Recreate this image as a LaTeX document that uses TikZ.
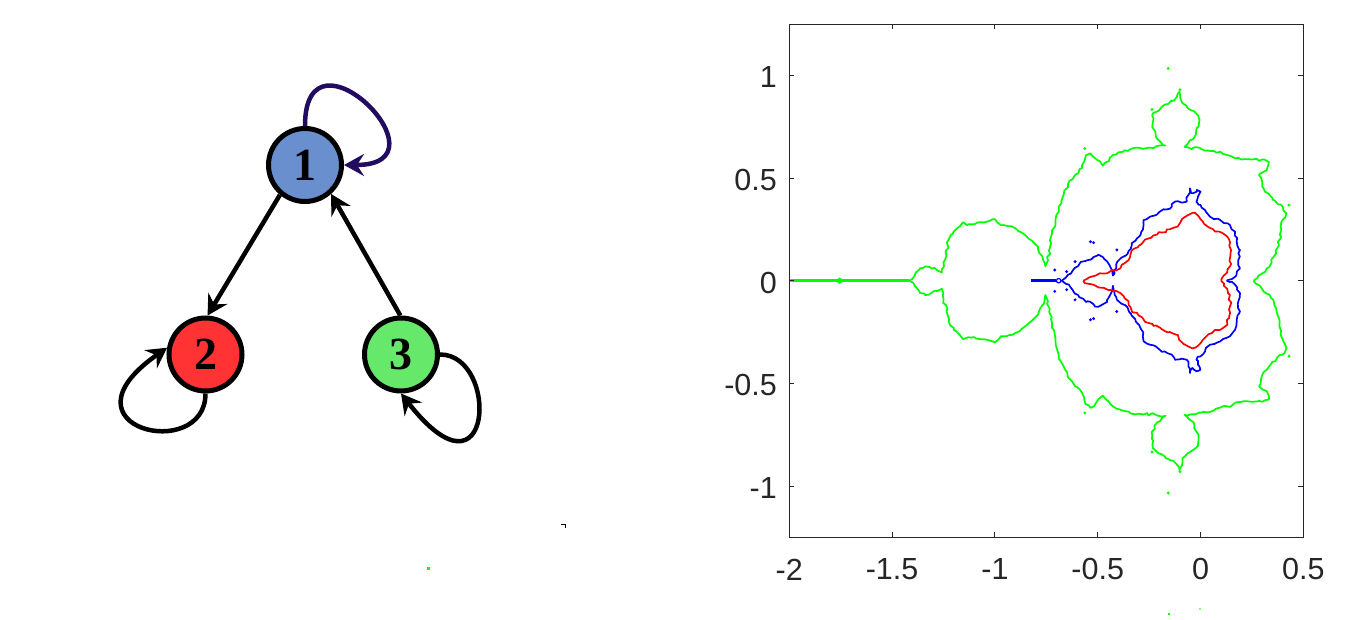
\documentclass[tikz,border=0pt]{standalone}
\usepackage{fontspec}
\newfontfamily\axfont{Liberation Sans}
\newfontfamily\labfont{Liberation Serif}
\usetikzlibrary{arrows.meta,decorations.pathmorphing}
\definecolor{nblue}{RGB}{106,143,206}
\definecolor{nred}{RGB}{255,51,51}
\definecolor{ngreen}{RGB}{102,232,106}
\definecolor{loopcol}{RGB}{34,12,96}
\definecolor{axcol}{RGB}{38,38,38}
\definecolor{mgreen}{RGB}{0,255,0}
\definecolor{mblue}{RGB}{0,0,255}
\definecolor{mred}{RGB}{255,0,0}
\begin{document}
\begin{tikzpicture}[x=1pt,y=1pt,
  vtx/.style={circle,draw=black,line width=5pt,minimum size=73pt,inner sep=0pt,
    font=\labfont\bfseries\fontsize{46}{46}\selectfont},
  conn/.style={line width=4.5pt,-{Stealth[length=20pt,width=22pt,inset=7pt]}},
  axline/.style={draw=axcol,line width=0.9pt},
  axlab/.style={text=axcol,inner sep=0pt,font=\axfont\fontsize{30.5}{30.5}\selectfont},
  jag/.style={decorate,decoration={random steps,segment length=3.5pt,amplitude=1.5pt}},
  gcurve/.style={draw=mgreen,line width=1.7pt,line join=round,jag},
  bcurve/.style={draw=mblue,line width=1.7pt,line join=round,jag},
  rcurve/.style={draw=mred,line width=1.7pt,line join=round,jag}]
\useasboundingbox (0,0) rectangle (1363,620);
\fill[white] (0,0) rectangle (1363,620);

% ---------- graph ----------
\node[vtx,fill=nblue] (n1) at (305,455) {1};
\node[vtx,fill=nred] (n2) at (205.5,265.5) {2};
\node[vtx,fill=ngreen] (n3) at (401,265.5) {3};

\draw[conn] (n1.230) -- (n2.87);
\draw[conn] (n3.91) -- (n1.-48);
\draw[conn,loopcol] (n1.north) .. controls +(90:110) and +(0:110) .. (n1.east);
\draw[conn] (n2.south) .. controls +(-90:70) and +(215:140) .. (n2.170);
\draw[conn] (n3.east) .. controls +(0:60) and +(-52:150) .. (n3.south);

% stray marks
\draw[black,line width=1pt] (561,95) -- (565,95) -- (565,92);
\fill[mgreen] (426.5,49.5) rectangle (429.5,52.5);

% ---------- plot ----------
\begin{scope}[shift={(1200.5pt,339.3pt)},x=205.6pt,y=205.3pt]
  % antenna
  \draw[mgreen,line width=2.6pt] (-2,0) -- (-1.417,0);
  \draw[mgreen,line width=1.2pt] (-1.772,0) -- (-1.755,0.012) -- (-1.738,0) -- (-1.755,-0.012) -- cycle;
  \foreach \s in {1,-1}{
  \begin{scope}[yscale=\s]
  \draw[gcurve] (-1.417,0) -- (-1.39,0.025) -- (-1.365,0.06) -- (-1.34,0.07) -- (-1.31,0.06) -- (-1.28,0.05) -- (-1.258,0.04)
    -- (-1.25,0.09) -- (-1.235,0.15) -- (-1.225,0.2) -- (-1.2,0.24) -- (-1.17,0.265) -- (-1.155,0.285) -- (-1.13,0.275)
    -- (-1.1,0.275) -- (-1.07,0.285) -- (-1.03,0.29) -- (-1.0,0.3) -- (-0.97,0.27) -- (-0.93,0.265) -- (-0.9,0.255)
    -- (-0.87,0.235) -- (-0.85,0.22) -- (-0.82,0.195) -- (-0.79,0.165) -- (-0.77,0.12) -- (-0.755,0.07)
    -- (-0.742,0.1) -- (-0.733,0.16) -- (-0.722,0.23) -- (-0.705,0.3) -- (-0.69,0.36) -- (-0.665,0.42) -- (-0.645,0.47)
    -- (-0.61,0.515) -- (-0.575,0.55) -- (-0.56,0.6) -- (-0.535,0.62) -- (-0.505,0.59) -- (-0.475,0.56) -- (-0.44,0.6)
    -- (-0.4,0.625) -- (-0.37,0.635) -- (-0.3,0.648) -- (-0.22,0.652) -- (-0.17,0.658)
    -- (-0.21,0.69) -- (-0.235,0.75) -- (-0.232,0.815) -- (-0.19,0.845) -- (-0.145,0.875) -- (-0.115,0.895) -- (-0.102,0.92)
    -- (-0.088,0.865) -- (-0.045,0.83) -- (-0.012,0.805) -- (-0.01,0.75) -- (-0.03,0.7) -- (-0.078,0.652)
    -- (0,0.643) -- (0.065,0.632) -- (0.13,0.612) -- (0.2,0.59) -- (0.25,0.59) -- (0.3,0.59) -- (0.333,0.578)
    -- (0.322,0.538) -- (0.285,0.515) -- (0.3,0.46) -- (0.35,0.395) -- (0.4,0.36) -- (0.418,0.328) -- (0.39,0.265)
    -- (0.385,0.2) -- (0.368,0.133) -- (0.335,0.068) -- (0.258,0);
  \draw[bcurve] (-0.675,0) -- (-0.655,0.015) -- (-0.63,0.035) -- (-0.612,0.062) -- (-0.59,0.08) -- (-0.55,0.1)
    -- (-0.52,0.115) -- (-0.497,0.127) -- (-0.475,0.115) -- (-0.455,0.095) -- (-0.44,0.07) -- (-0.43,0.05) -- (-0.426,0.025)
    -- (-0.42,0.05) -- (-0.41,0.08) -- (-0.385,0.112) -- (-0.355,0.13) -- (-0.335,0.17) -- (-0.31,0.205) -- (-0.288,0.238)
    -- (-0.277,0.295) -- (-0.245,0.312) -- (-0.2,0.335) -- (-0.14,0.36) -- (-0.124,0.385) -- (-0.09,0.38) -- (-0.067,0.385)
    -- (-0.059,0.417) -- (-0.051,0.45) -- (-0.04,0.425) -- (-0.018,0.442) -- (0,0.434) -- (-0.012,0.41) -- (-0.02,0.385)
    -- (0,0.369) -- (0.022,0.344) -- (0.046,0.312) -- (0.095,0.296) -- (0.143,0.271) -- (0.168,0.239) -- (0.176,0.19)
    -- (0.192,0.15) -- (0.184,0.101) -- (0.192,0.06) -- (0.168,0.019) -- (0.127,0);
  \draw[rcurve] (-0.57,0) -- (-0.545,0.015) -- (-0.51,0.025) -- (-0.47,0.035) -- (-0.44,0.045) -- (-0.41,0.05)
    -- (-0.39,0.06) -- (-0.37,0.085) -- (-0.35,0.1) -- (-0.34,0.13) -- (-0.325,0.155) -- (-0.3,0.17) -- (-0.27,0.2)
    -- (-0.23,0.22) -- (-0.19,0.235) -- (-0.15,0.25) -- (-0.11,0.265) -- (-0.09,0.3) -- (-0.06,0.32) -- (-0.04,0.33)
    -- (-0.01,0.315) -- (0.01,0.29) -- (0.04,0.26) -- (0.07,0.24) -- (0.11,0.23) -- (0.13,0.215) -- (0.14,0.17)
    -- (0.145,0.12) -- (0.143,0.07) -- (0.13,0.04) -- (0.1,0);
  \foreach \p in {(-0.709,0.052),(-0.651,0.044),(-0.61,0.093),(-0.535,0.19),(-0.52,0.185),(-0.407,0.15)}
    \fill[mblue] \p circle (1.6pt);
  \foreach \p in {(-0.157,1.034),(-0.236,0.834),(-0.563,0.644),(0.43,0.368),(-0.1,0.93)}
    \fill[mgreen] \p circle (1.6pt);
  \end{scope}}
  \draw[mblue,line width=2.6pt] (-0.826,0) -- (-0.705,0);
  \draw[mblue,line width=1.2pt] (-0.69,0) circle (2.2pt);
  \draw[mblue,line width=1.5pt] (-0.68,0) -- (-0.672,0);

  % axes box and ticks
  \draw[axline] (-2,-1.25) rectangle (0.5,1.25);
  \foreach \v in {-1,-0.5,0,0.5,1}{
    \draw[axline] (-2,\v) -- ++(5pt,0pt);
    \draw[axline] (0.5,\v) -- ++(-5pt,0pt);
  }
  \foreach \u in {-1.5,-1,-0.5,0}{
    \draw[axline] (\u,-1.25) -- ++(0pt,5pt);
    \draw[axline] (\u,1.25) -- ++(0pt,-5pt);
  }
  \foreach \u/\t in {-2/-2,-1.5/-1.5,-1/-1,-0.5/-0.5,0/0,0.5/0.5}
    \node[axlab] at (\u,-1.4067) {\t};
  \foreach \v/\t in {-1/-1,-0.5/-0.5,0/0,0.5/0.5,1/1}
    \node[axlab,anchor=east] at ([yshift=-2pt]-2.0598,\v) {\t};
\end{scope}
% stray dots below plot
\fill[mgreen] (1167.5,4.5) rectangle (1170,7);
\fill[mgreen!50] (1199,10) rectangle (1201,12);
\end{tikzpicture}
\end{document}
